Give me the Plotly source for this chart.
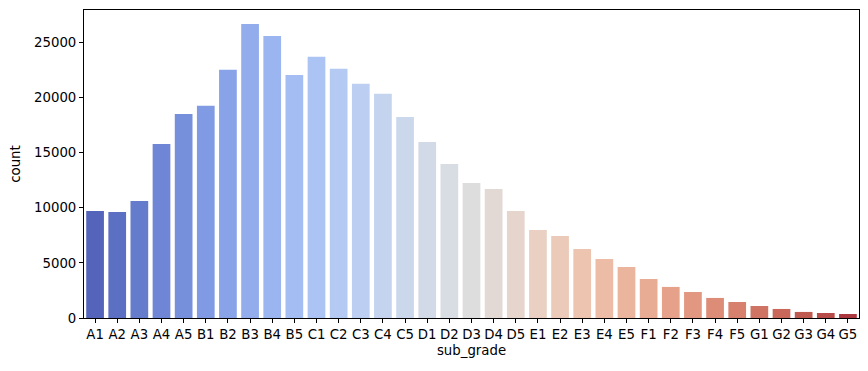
import colorsys
import plotly.graph_objects as go

sub_grades = ["A1","A2","A3","A4","A5","B1","B2","B3","B4","B5",
              "C1","C2","C3","C4","C5","D1","D2","D3","D4","D5",
              "E1","E2","E3","E4","E5","F1","F2","F3","F4","F5",
              "G1","G2","G3","G4","G5"]
counts = [9700, 9620, 10620, 15800, 18520, 19250, 22520, 26680, 25600, 22060,
          23700, 22610, 21250, 20340, 18250, 15980, 13980, 12260, 11710, 9720,
          7990, 7450, 6270, 5360, 4630, 3540, 2820, 2360, 1820, 1450,
          1090, 820, 550, 455, 365]
y_ticks = [0, 5000, 10000, 15000, 20000, 25000]

# coolwarm colormap anchors (Moreland)
cw = [(59,76,192),(68,90,204),(77,104,215),(87,117,225),(98,130,234),(108,142,241),
      (119,154,247),(130,165,251),(141,176,254),(152,185,255),(163,194,255),(174,201,253),
      (184,208,249),(194,213,244),(204,217,238),(213,219,230),(221,221,221),(229,216,209),
      (236,211,197),(241,204,184),(245,196,172),(247,187,159),(247,177,147),(247,166,134),
      (244,154,123),(241,141,111),(236,127,99),(229,112,88),(222,96,77),(213,80,66),
      (203,62,56),(192,40,47),(180,4,38)]

def cmap(t):
    p = t * (len(cw) - 1)
    i = min(int(p), len(cw) - 2)
    f = p - i
    return [cw[i][k] + (cw[i+1][k] - cw[i][k]) * f for k in range(3)]

def desat(rgb, s=0.75):
    h, l, sat = colorsys.rgb_to_hls(*[c / 255 for c in rgb])
    r, g, b = colorsys.hls_to_rgb(h, l, sat * s)
    return f"rgb({round(r*255)},{round(g*255)},{round(b*255)})"

n = len(sub_grades)
colors = [desat(cmap((i + 1) / (n + 1))) for i in range(n)]

fig = go.Figure(go.Bar(x=sub_grades, y=counts, marker=dict(color=colors, line=dict(width=0)),
                       width=0.8))

font = dict(family="DejaVu Sans", size=13.3, color="black")
fig.update_layout(
    width=868, height=371,
    margin=dict(l=84, r=9, t=10, b=53, autoexpand=False),
    plot_bgcolor="white", paper_bgcolor="white",
    font=font, showlegend=False,
    xaxis=dict(title=dict(text="sub_grade", font=font, standoff=4),
               range=[-0.5, n - 0.5], showline=True, linecolor="black", linewidth=1,
               mirror=True, ticks="outside", ticklen=4, tickcolor="black",
               showgrid=False, tickfont=font, tickangle=0, automargin=False),
    yaxis=dict(title=dict(text="count", font=font, standoff=10),
               range=[0, 27950], tickvals=y_ticks, ticktext=[str(v) for v in y_ticks],
               showline=True, linecolor="black", linewidth=1, mirror=True,
               ticks="outside", ticklen=4, tickcolor="black", showgrid=False,
               zeroline=False, tickfont=font, automargin=False),
)
fig.write_html("out.html", config={"displayModeBar": False},
               post_script="document.body.style.margin='0';")
